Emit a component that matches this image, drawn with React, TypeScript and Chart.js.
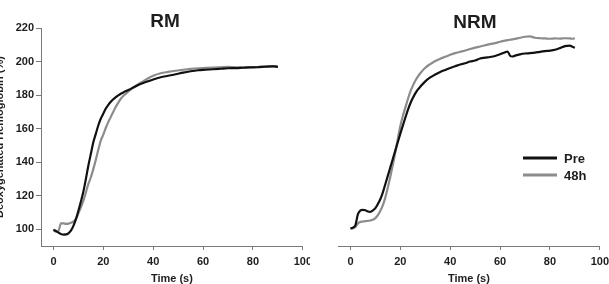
import React, { useEffect, useRef } from "react";
import { Chart, registerables } from "chart.js";
Chart.register(...registerables);

// ---------- data ----------
const timeRM = [0,1,2,3,4,5,6,7,8,9,10,11,12,13,14,15,16,17,18,19,20,21,22,23,24,25,26,27,28,30,32,34,36,38,40,43,46,49,52,55,58,61,64,67,70,73,76,79,82,85,88,90];
const rmPre = [99.5,99,98,97.2,96.8,96.9,97.6,99.2,102,106,111,116.5,122.5,130,138,145,152,157,162,166,169,172,174.2,176,177.5,178.8,179.8,180.8,181.6,183,184.5,186,187.2,188.2,189.3,190.6,191.5,192.4,193.4,194.2,194.8,195.1,195.4,195.7,196,196.1,196.3,196.5,196.6,196.9,197.1,196.8];
const rm48h = [100,98.5,99,103.5,103.5,103.2,103.3,103.8,104.6,106,109.5,113,117,122,127,131,136,141.5,147.5,153,156.5,160.5,164,167,170,173,175.5,177.8,179.5,182,184.5,186.5,188.2,190,191.5,193,193.8,194.5,195.1,195.6,196,196.2,196.4,196.6,196.8,196.6,196.5,196.7,196.9,197.1,197.3,197];

const timeNRM = [0,1,2,3,4,5,6,7,8,9,10,11,12,13,14,15,16,17,18,19,20,21,22,23,24,25,26,27,28,30,32,34,36,38,40,42,44,46,48,50,52,54,56,58,60,62,63,64,65,66,68,70,72,74,76,78,80,82,84,86,88,89,90];
const nrmPre = [100.4,101,102.5,109,111.2,111.6,111.3,110.6,110.4,111.2,112.6,115,118,122,127,132,137,142,147,152,157,161.8,166.5,171,175,178.2,181,183.2,185,188.2,190.5,192.3,193.8,195,196.2,197.2,198.2,199,200,200.6,201.8,202.3,202.7,203.3,204.3,205.5,206,203.5,203,203.5,204.3,204.8,205,205.3,205.8,206.2,206.5,207,208,209.2,209.5,208.8,208.2];
const nrm48h = [100.4,100.6,101.4,103.5,104.4,104.6,104.8,105,105.2,105.6,106.6,108.4,111,114.4,119,125,131.5,138.5,146,154,161.5,167.5,172.5,177.5,182,185.5,188.5,191,193,196.3,198.5,200.3,201.7,202.8,204,205,205.8,206.6,207.5,208.3,209,209.7,210.4,211,211.8,212.5,212.8,213,213.2,213.5,214.2,214.8,215,214.2,213.9,213.8,213.6,213.8,213.7,213.9,213.8,213.6,213.8];

const xTicks = [0, 20, 40, 60, 80, 100];
const yTicks = [100, 120, 140, 160, 180, 200, 220];
const seriesLabels = ["Pre", "48h"];
const panelTitles = ["RM", "NRM"];
const yAxisTitle = "Deoxygenated Hemoglobin (%)";
const xAxisTitle = "Time (s)";

const BLACK = "#111111";
const GRAY = "#8c8c8c";
const AXIS = "#7a7a7a";
const TEXT = "#1e1e1e";
const FONT = "Arial, 'Liberation Sans', sans-serif";

type PanelProps = {
  left: number;
  width: number;
  canvasLeft: number;
  canvasWidth: number;
  time: number[];
  pre: number[];
  post: number[];
  title: string;
  titleX: number;
  titleY: number;
  showY: boolean;
  padLeft: number;
  showLegend: boolean;
};

function Panel(p: PanelProps) {
  const ref = useRef<HTMLCanvasElement | null>(null);
  useEffect(() => {
    if (!ref.current) return;
    const overlay = {
      id: "overlay",
      afterDraw(chart: any) {
        const ctx = chart.ctx;
        ctx.save();
        ctx.fillStyle = TEXT;
        ctx.textAlign = "center";
        ctx.textBaseline = "middle";
        ctx.font = `bold 19px ${FONT}`;
        ctx.fillText(p.title, p.titleX, p.titleY);
        if (p.showLegend) {
          const lx0 = 213, lx1 = 247, tx = 254;
          const rows = [
            { label: seriesLabels[0], color: BLACK, y: 158 },
            { label: seriesLabels[1], color: GRAY, y: 175 },
          ];
          ctx.font = `bold 13px ${FONT}`;
          ctx.textAlign = "left";
          rows.forEach((r) => {
            ctx.strokeStyle = r.color;
            ctx.lineWidth = 3;
            ctx.beginPath();
            ctx.moveTo(lx0, r.y);
            ctx.lineTo(lx1, r.y);
            ctx.stroke();
            ctx.fillStyle = TEXT;
            ctx.fillText(r.label, tx, r.y + 1);
          });
        }
        ctx.restore();
      },
    };
    const toPts = (vals: number[]) => vals.map((v, i) => ({ x: p.time[i], y: v }));
    const chart = new Chart(ref.current, {
      type: "line",
      data: {
        datasets: [
          {
            label: seriesLabels[1],
            data: toPts(p.post),
            borderColor: GRAY,
            borderWidth: 2.2,
            pointRadius: 0,
            cubicInterpolationMode: "monotone",
            order: 2,
          },
          {
            label: seriesLabels[0],
            data: toPts(p.pre),
            borderColor: BLACK,
            borderWidth: 2.2,
            pointRadius: 0,
            cubicInterpolationMode: "monotone",
            order: 1,
          },
        ],
      },
      options: {
        responsive: false,
        animation: false,
        devicePixelRatio: 1,
        layout: { padding: { left: p.padLeft, right: 12, top: 28, bottom: 0 } },
        plugins: { legend: { display: false }, tooltip: { enabled: false }, title: { display: false } },
        scales: {
          x: {
            type: "linear",
            min: -5,
            max: 100,
            afterBuildTicks: (s: any) => {
              s.ticks = xTicks.map((v) => ({ value: v }));
            },
            afterFit: (s: any) => {
              s.height = 38;
            },
            grid: { display: true, drawOnChartArea: false, drawTicks: true, tickLength: 4, color: AXIS },
            border: { display: true, color: AXIS, width: 1 },
            ticks: { color: TEXT, font: { family: FONT, size: 11, weight: "bold" }, padding: 5, maxRotation: 0 },
            title: {
              display: true,
              text: xAxisTitle,
              color: TEXT,
              font: { family: FONT, size: 11, weight: "bold", lineHeight: 1 },
              padding: { top: 0, bottom: 0 },
            },
          },
          y: {
            type: "linear",
            display: p.showY,
            min: 90,
            max: 220,
            afterBuildTicks: (s: any) => {
              s.ticks = yTicks.map((v) => ({ value: v }));
            },
            afterFit: (s: any) => {
              s.width = p.showY ? 47 : 0;
            },
            grid: { display: true, drawOnChartArea: false, drawTicks: true, tickLength: 5, color: AXIS },
            border: { display: true, color: AXIS, width: 1 },
            ticks: { color: TEXT, font: { family: FONT, size: 11, weight: "bold" }, padding: 2 },
            title: {
              display: true,
              text: yAxisTitle,
              color: TEXT,
              font: { family: FONT, size: 11, weight: "bold", lineHeight: 1 },
              padding: { top: 0, bottom: 0 },
            },
          },
        },
      },
      plugins: [overlay],
    } as any);
    return () => chart.destroy();
  }, []);
  return (
    <div style={{ position: "absolute", left: p.left, top: 0, width: p.width, height: 284, overflow: "hidden" }}>
      <canvas
        ref={ref}
        width={p.canvasWidth}
        height={284}
        style={{ position: "absolute", left: p.canvasLeft, top: 0, width: p.canvasWidth, height: 284 }}
      />
    </div>
  );
}

export default function App() {
  return (
    <div style={{ position: "fixed", left: 0, top: 0, width: 609, height: 284, background: "#fff", overflow: "hidden" }}>
      <Panel
        left={0}
        width={310}
        canvasLeft={-6}
        canvasWidth={323}
        time={timeRM}
        pre={rmPre}
        post={rm48h}
        title={panelTitles[0]}
        titleX={171}
        titleY={22}
        showY={true}
        padLeft={0}
        showLegend={false}
      />
      <Panel
        left={310}
        width={299}
        canvasLeft={0}
        canvasWidth={304}
        time={timeNRM}
        pre={nrmPre}
        post={nrm48h}
        title={panelTitles[1]}
        titleX={165}
        titleY={23}
        showY={false}
        padLeft={28}
        showLegend={true}
      />
    </div>
  );
}
